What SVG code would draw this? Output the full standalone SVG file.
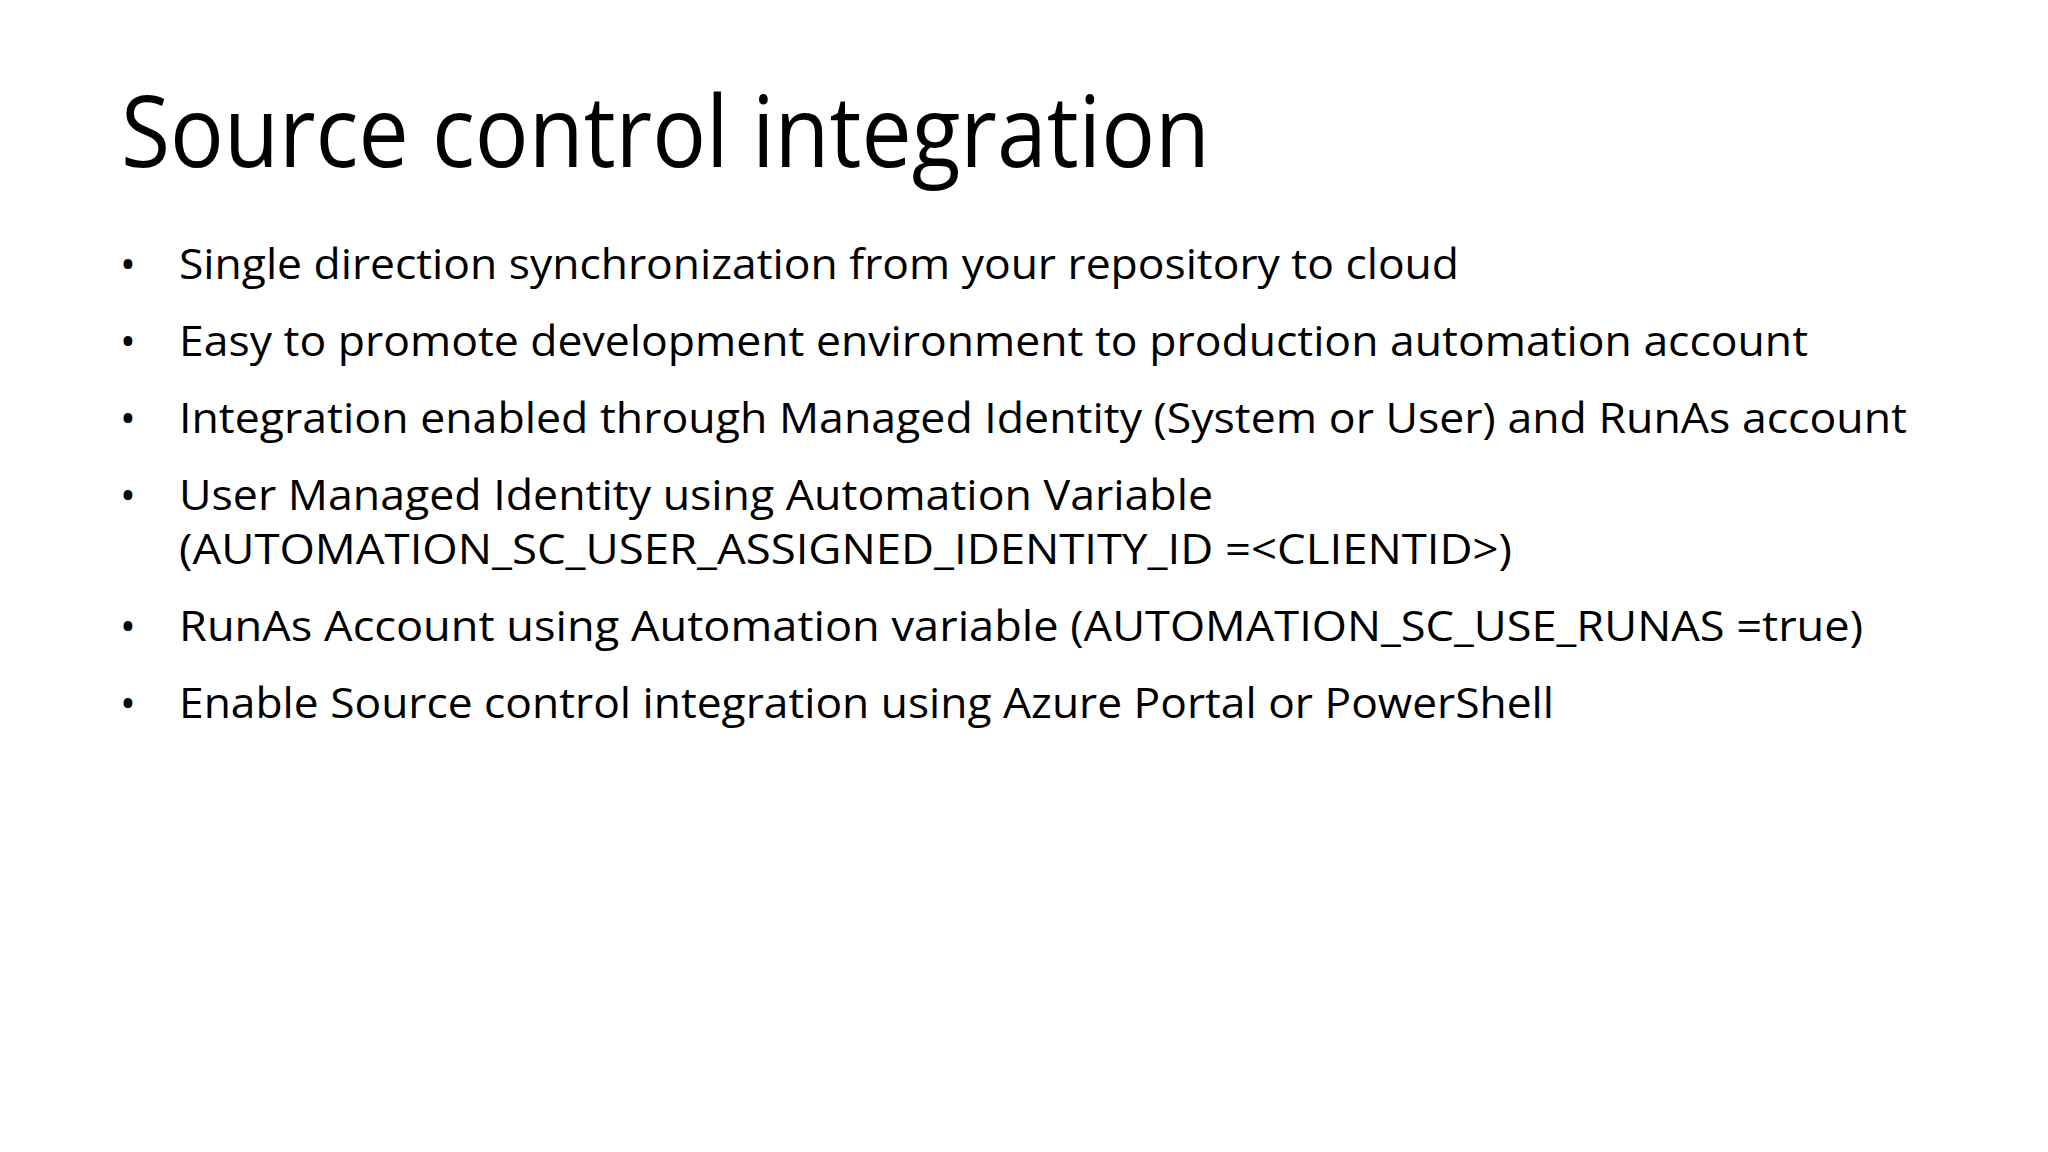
<svg xmlns="http://www.w3.org/2000/svg" width="2048" height="1152" viewBox="0 0 2048 1152">
<style>
.t{font-family:"Open Sans","Liberation Sans",sans-serif;fill:#000}
.b{font-size:42px}
</style>
<rect width="2048" height="1152" fill="#fff"/>
<g id="title"><text class="t" x="121" y="167" font-size="98" textLength="1089" lengthAdjust="spacingAndGlyphs">Source control integration</text></g>
<g id="bullets">
<text class="t b" x="120" y="279">•</text>
<text class="t b" x="179" y="279" textLength="1280" lengthAdjust="spacingAndGlyphs">Single direction synchronization from your repository to cloud</text>
<text class="t b" x="120" y="356">•</text>
<text class="t b" x="179" y="356" textLength="1629" lengthAdjust="spacingAndGlyphs">Easy to promote development environment to production automation account</text>
<text class="t b" x="120" y="433">•</text>
<text class="t b" x="179" y="433" textLength="1728" lengthAdjust="spacingAndGlyphs">Integration enabled through Managed Identity (System or User) and RunAs account</text>
<text class="t b" x="120" y="510">•</text>
<text class="t b" x="179" y="510" textLength="1034" lengthAdjust="spacingAndGlyphs">User Managed Identity using Automation Variable</text>
<text class="t b" x="179" y="564" textLength="1333" lengthAdjust="spacingAndGlyphs">(AUTOMATION_SC_USER_ASSIGNED_IDENTITY_ID =&lt;CLIENTID&gt;)</text>
<text class="t b" x="120" y="641">•</text>
<text class="t b" x="179" y="641" textLength="1684" lengthAdjust="spacingAndGlyphs">RunAs Account using Automation variable (AUTOMATION_SC_USE_RUNAS =true)</text>
<text class="t b" x="120" y="718">•</text>
<text class="t b" x="179" y="718" textLength="1375" lengthAdjust="spacingAndGlyphs">Enable Source control integration using Azure Portal or PowerShell</text>
</g>
</svg>
